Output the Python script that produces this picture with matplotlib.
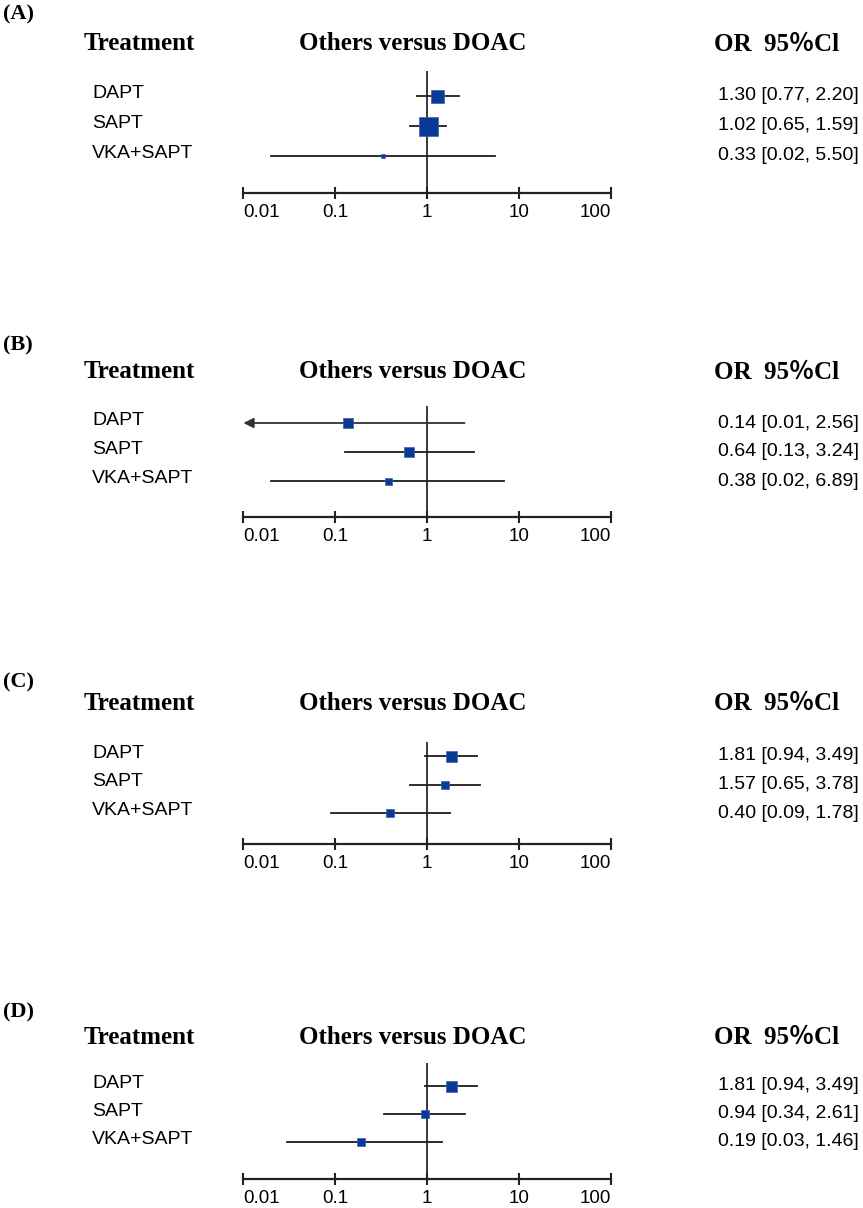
import numpy as np
import matplotlib
matplotlib.use("Agg")
import matplotlib.pyplot as plt
from matplotlib.transforms import blended_transform_factory

treatments = ["DAPT", "SAPT", "VKA+SAPT"]
panel_names = ["(A)", "(B)", "(C)", "(D)"]

# odds ratios and 95% CI per panel
or_a = [1.30, 1.02, 0.33]
lo_a = [0.77, 0.65, 0.02]
hi_a = [2.20, 1.59, 5.50]

or_b = [0.14, 0.64, 0.38]
lo_b = [0.01, 0.13, 0.02]
hi_b = [2.56, 3.24, 6.89]

or_c = [1.81, 1.57, 0.40]
lo_c = [0.94, 0.65, 0.09]
hi_c = [3.49, 3.78, 1.78]

or_d = [1.81, 0.94, 0.19]
lo_d = [0.94, 0.34, 0.03]
hi_d = [3.49, 2.61, 1.46]

# relative box size (study weight)
wt_a = [13, 19, 4]
wt_b = [10, 10, 7]
wt_c = [11, 8, 8]
wt_d = [11, 8, 8]

ticks = [0.01, 0.1, 1, 10, 100]
tick_labels = ["0.01", "0.1", "1", "10", "100"]

panels = [
    (or_a, lo_a, hi_a, wt_a),
    (or_b, lo_b, hi_b, wt_b),
    (or_c, lo_c, hi_c, wt_c),
    (or_d, lo_d, hi_d, wt_d),
]

# pixel layout: label y, header y, top of ref line, first row, row spacing, axis y
layout = [
    (14, 44, 71, 96, 30, 193),
    (345, 372, 406, 423, 29, 517),
    (682, 703, 742, 756, 28.5, 844),
    (1012, 1037, 1063, 1086, 28, 1179),
]

W, H = 863, 1208
fig = plt.figure(figsize=(W / 100, H / 100), dpi=100)

serif = "Liberation Serif"
sans = "Liberation Sans"
box_col = "#0b3a96"
line_col = "#1e1e1e"

x0, x1 = 243, 611

for (ors, los, his, wts), name, (ly, hy, ty, r0, sp, ay) in zip(panels, panel_names, layout):
    ax = fig.add_axes([x0 / W, 1 - ay / H, (x1 - x0) / W, (ay - ty) / H])
    ax.set_xscale("log")
    ax.set_xlim(0.01, 100)
    ax.set_ylim((ay - r0) / sp, (ty - r0) / sp)
    ax.patch.set_visible(False)
    for s in ["top", "left", "right"]:
        ax.spines[s].set_visible(False)
    ax.spines["bottom"].set_linewidth(1.6)
    ax.spines["bottom"].set_color("#222222")
    ax.set_yticks([])
    ax.set_xticks(ticks, tick_labels)
    ax.minorticks_off()
    ax.tick_params(axis="x", which="major", direction="inout", length=8.5, width=1.5,
                   color="#222222", pad=4, labelsize=13.5)
    for lab in ax.get_xticklabels():
        lab.set_fontfamily(sans)
    xt = ax.xaxis.get_major_ticks()
    xt[0].label1.set_horizontalalignment("left")
    xt[-1].label1.set_horizontalalignment("right")

    ax.axvline(1, color="#2a2a2a", lw=1.3, zorder=1)

    for i, (o, lo, hi, w) in enumerate(zip(ors, los, his, wts)):
        if lo <= 0.01:
            ax.annotate("", xy=(0.0101, i), xytext=(hi, i),
                        arrowprops=dict(arrowstyle="-|>,head_length=0.6,head_width=0.3",
                                        color="#333333", lw=1.3, shrinkA=0, shrinkB=0))
        else:
            ax.plot([lo, hi], [i, i], color=line_col, lw=1.3, zorder=2)
        ax.plot(o, i, marker="s", markersize=w * 0.72, color=box_col,
                markeredgecolor="#3560b0", markeredgewidth=0.5, zorder=3)

    tr = blended_transform_factory(fig.transFigure, ax.transData)
    for i, t in enumerate(treatments):
        ax.text(92 / W, i - 0.1, t, transform=tr, ha="left", va="center",
                fontsize=14, family=sans)
        ax.text(859 / W, i, f"{ors[i]:.2f} [{los[i]:.2f}, {his[i]:.2f}]", transform=tr,
                ha="right", va="center", fontsize=14, family=sans)

    fig.text(3 / W, 1 - ly / H, name, ha="left", va="center", fontsize=16,
             family=serif, fontweight="bold")
    fig.text(84 / W, 1 - hy / H, "Treatment", ha="left", va="center", fontsize=18,
             family=serif, fontweight="bold")
    fig.text(413 / W, 1 - hy / H, "Others versus DOAC", ha="center", va="center",
             fontsize=18, family=serif, fontweight="bold")
    fig.text(777 / W, 1 - hy / H, "OR  95％Cl", ha="center", va="center", fontsize=18,
             family=[serif, "Noto Sans CJK SC"], fontweight="bold")

fig.savefig("out.png", dpi=100)
